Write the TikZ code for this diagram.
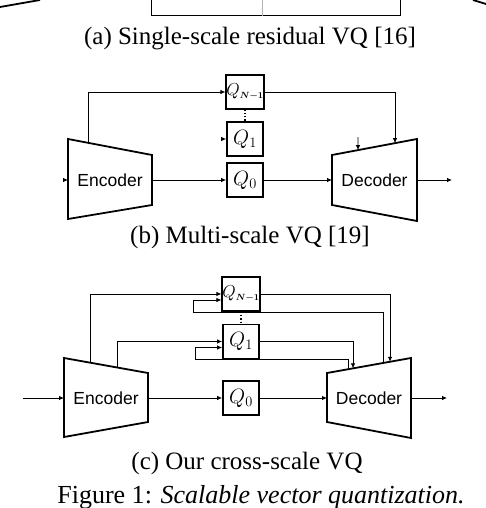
\documentclass[tikz,border=0pt]{standalone}
\usepackage{amsmath}
\usepackage{amssymb}
\usepackage[no-math]{fontspec}
\setmainfont{Liberation Serif}
\setsansfont{Liberation Sans}
\usetikzlibrary{arrows.meta,calc}

\tikzset{
  qbox/.style={draw, line width=1.8pt, minimum width=36pt, minimum height=34pt, inner sep=0pt, font=\fontsize{20}{22}\selectfont},
  qlastbox/.style={qbox, font=\fontsize{18}{20}\selectfont},
  codec/.style={line width=1.8pt, line join=miter},
  wire/.style={line width=0.8pt},
  caption/.style={anchor=base, font=\fontsize{25}{30}\selectfont},
  blocklabel/.style={font=\sffamily\fontsize{17.5}{20}\selectfont},
}
\newcommand{\qlast}{$Q_{\scriptscriptstyle\boldsymbol{N-1}}$}

\begin{document}
\begin{tikzpicture}[x=1pt, y=-1pt, >={Latex[length=5pt,width=4.5pt]}]
        \useasboundingbox (0,0) rectangle (486,508);
        \clip (0,0) rectangle (486,508);

        % (a) remains of the upper panel
        \draw[line width=1.8pt] (0,7) -- (40,0);
        \draw[line width=1.8pt] (473,0) -- (486,4);
        \draw[line width=1pt] (151,0) -- (151,16) -- (400,16) -- (400,0);
        \draw[line width=0.6pt, gray!60] (262,0) -- (262,16);
        \node[caption] (capa) at (250,45) {(a) Single-scale residual VQ [16]};

        % (b) Encoder and Decoder
        \coordinate (eb1) at (68,139);
        \coordinate (eb2) at (152,155);
        \coordinate (eb3) at (152,205);
        \coordinate (eb4) at (68,219);
        \draw[codec] (eb1) -- (eb2) -- (eb3) -- (eb4) -- cycle;
        \node[blocklabel] (encb) at (110,180) {Encoder};
        \coordinate (db1) at (332,155);
        \coordinate (db2) at (417,139);
        \coordinate (db3) at (417,221);
        \coordinate (db4) at (332,205);
        \draw[codec] (db1) -- (db2) -- (db3) -- (db4) -- cycle;
        \node[blocklabel] (decb) at (374.5,180) {Decoder};

        % (b) quantizers
        \node[qlastbox] (qbN) at (245,92) {\qlast};
        \node[qbox] (qb1) at (245,139) {$Q_1$};
        \node[qbox] (qb0) at (245,180) {$Q_0$};
        \draw[dotted, line width=1.2pt] (qbN.south) -- (qb1.north);

        % (b) connections
        \coordinate (ebin) at (68,180);
        \coordinate (ebout) at (152,180);
        \coordinate (ebtop) at ($(eb1)!0.24!(eb2)$);
        \coordinate (dbin) at (332,180);
        \coordinate (dbout) at (417,180);
        \coordinate (dbtopA) at ($(db1)!0.306!(db2)$);
        \coordinate (dbtopB) at ($(db1)!0.741!(db2)$);
        \coordinate (xbin) at (63,180);
        \coordinate (xbout) at (452,180);
        \coordinate (qbstub) at (222,139);
        \coordinate (dbstub) at (358,137);
        \draw[wire, ->] (xbin) -- (ebin);
        \draw[wire, ->] (ebtop) |- (qbN.west);
        \draw[wire, ->] (ebout) -- (qb0.west);
        \draw[wire, ->] (qbstub) -- (qb1.west);
        \draw[wire, ->] (qb0.east) -- (dbin);
        \draw[wire, ->] (qbN.east) -| (dbtopB);
        \draw[wire, ->] (dbstub) -- (dbtopA);
        \draw[wire, ->] (dbout) -- (xbout);
        \node[caption] (capb) at (250,243) {(b) Multi-scale VQ [19]};

        % (c) Encoder and Decoder
        \coordinate (ec1) at (64,358);
        \coordinate (ec2) at (148,373);
        \coordinate (ec3) at (148,422);
        \coordinate (ec4) at (64,437);
        \draw[codec] (ec1) -- (ec2) -- (ec3) -- (ec4) -- cycle;
        \node[blocklabel] (encc) at (106,398) {Encoder};
        \coordinate (dc1) at (327,373);
        \coordinate (dc2) at (411,358);
        \coordinate (dc3) at (411,438);
        \coordinate (dc4) at (327,422);
        \draw[codec] (dc1) -- (dc2) -- (dc3) -- (dc4) -- cycle;
        \node[blocklabel] (decc) at (369,398) {Decoder};

        % (c) quantizers
        \node[qlastbox] (qcN) at (241,294) {\qlast};
        \node[qbox] (qc1) at (241,341.5) {$Q_1$};
        \node[qbox] (qc0) at (241,398) {$Q_0$};
        \draw[dotted, line width=1.2pt] (qcN.south) -- (qc1.north);

        % (c) connections
        \coordinate (ecin) at (64,398);
        \coordinate (ecout) at (148,398);
        \coordinate (ectopN) at ($(ec1)!0.31!(ec2)$);
        \coordinate (ectop1) at ($(ec1)!0.631!(ec2)$);
        \coordinate (dcin) at (327,398);
        \coordinate (dcout) at (411,398);
        \coordinate (dctop1) at ($(dc1)!0.31!(dc2)$);
        \coordinate (dctopN) at ($(dc1)!0.75!(dc2)$);
        \coordinate (dcfb1) at ($(dc1)!0.25!(dc2)$);
        \coordinate (dcfbN) at ($(dc1)!0.667!(dc2)$);
        \coordinate (loop1) at (195,359);
        \coordinate (loopN) at (193,312);
        \coordinate (xcin) at (23,398);
        \coordinate (xcout) at (447,398);
        \draw[wire, ->] (xcin) -- (ecin);
        \draw[wire, ->] (ecout) -- (qc0.west);
        \draw[wire, ->] (qc0.east) -- (dcin);
        \draw[wire, ->] (dcout) -- (xcout);
        \draw[wire, ->] (ectopN) |- (qcN.west);
        \draw[wire, ->] (ectop1) |- (qc1.west);
        \draw[wire, ->] (qcN.east) -| (dctopN);
        \draw[wire, ->] (qc1.east) -| (dctop1);
        \draw[wire, ->] (dcfbN) |- (loopN) |- ($(qcN.west)+(0,6)$);
        \draw[wire, ->] (dcfb1) |- (loop1) |- ($(qc1.west)+(0,6)$);
        \node[caption] (capc) at (247,469) {(c) Our cross-scale VQ};

        % Figure caption
        \node[caption, font=\fontsize{26}{30}\selectfont] (capfig) at (261,503) {Figure 1: \textit{Scalable vector quantization.}};
    \end{tikzpicture}
\end{document}
